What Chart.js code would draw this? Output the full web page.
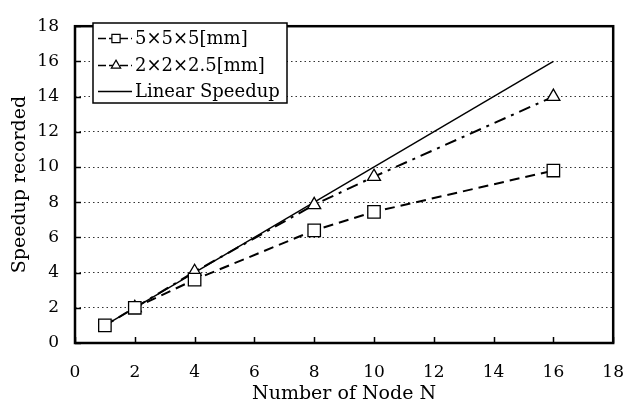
<!DOCTYPE html>
<html><head><meta charset="utf-8">
<script src="https://cdn.jsdelivr.net/npm/chart.js@4/dist/chart.umd.min.js"></script>
<style>html,body{margin:0;padding:0;background:#fff}#wrap{width:643px;height:405px}</style>
</head><body><div id="wrap"><canvas id="c" width="643" height="405"></canvas></div>
<script>
const nodes5 = [1, 2, 4, 8, 10, 16];
const speed5 = [1.0, 2.0, 3.6, 6.4, 7.45, 9.8];
const nodes2 = [2, 4, 8, 10, 16];
const speed2 = [2.0, 4.05, 7.85, 9.45, 14.0];
const nodesLin = [1, 16];
const speedLin = [1, 16];
const seriesLabels = ['5×5×5[mm]', '2×2×2.5[mm]', 'Linear Speedup'];
const xTicks = [0, 2, 4, 6, 8, 10, 12, 14, 16, 18];
const yTicks = [0, 2, 4, 6, 8, 10, 12, 14, 16, 18];

const SERIF = '"DejaVu Serif", "Liberation Serif", serif';
const toXY = (xs, ys) => xs.map((x, i) => ({x, y: ys[i]}));

const framePlugin = {
  id: 'frame',
  afterDraw(chart) {
    const {ctx, chartArea: a, scales} = chart;
    ctx.save();
    ctx.strokeStyle = '#000'; ctx.lineWidth = 1.5;
    xTicks.forEach(v => {
      const px = Math.round(scales.x.getPixelForValue(v)) + 0.5;
      ctx.beginPath(); ctx.moveTo(px, a.bottom); ctx.lineTo(px, a.bottom - 6); ctx.stroke();
    });
    yTicks.forEach(v => {
      const py = Math.round(scales.y.getPixelForValue(v)) + 0.5;
      ctx.beginPath(); ctx.moveTo(a.left, py); ctx.lineTo(a.left + 6, py); ctx.stroke();
    });
    ctx.lineWidth = 2.5;
    ctx.strokeRect(a.left, a.top, a.right - a.left, a.bottom - a.top);
    // legend
    const lx = 93, ly = 23, lw = 194, lh = 80;
    ctx.fillStyle = '#fff';
    ctx.fillRect(lx, ly, lw, lh);
    ctx.lineWidth = 1.5;
    ctx.strokeRect(lx, ly, lw, lh);
    const rows = [38, 65, 91];
    const mr = [5.8, 5.4, 0];
    chart.data.datasets.forEach((ds, i) => {
      const y = rows[i];
      ctx.strokeStyle = '#000';
      ctx.lineWidth = 1.4;
      ctx.setLineDash(i === 2 ? [] : [8, 3]);
      ctx.beginPath(); ctx.moveTo(98, y + 0.5); ctx.lineTo(132, y + 0.5); ctx.stroke();
      ctx.setLineDash([]);
      if (mr[i] > 0) {
        ctx.fillStyle = '#fff';
        ctx.strokeStyle = '#000';
        ctx.lineWidth = 1.2;
        Chart.helpers.drawPoint(ctx, {pointStyle: ds.pointStyle, radius: mr[i], borderWidth: 1.2}, 116, y + 0.5);
      }
      ctx.fillStyle = '#000';
      ctx.font = '18px ' + SERIF;
      ctx.textBaseline = 'middle';
      ctx.textAlign = 'left';
      ctx.fillText(ds.label, 135, y + 1);
    });
    ctx.restore();
  }
};

new Chart(document.getElementById('c'), {
  type: 'scatter',
  data: {
    datasets: [
      {label: seriesLabels[0], data: toXY(nodes5, speed5), showLine: true,
       borderColor: '#000', borderWidth: 2, borderDash: [10, 6],
       pointStyle: 'rect', pointRadius: 8.8, pointBackgroundColor: '#fff', pointBorderColor: '#000', pointBorderWidth: 1.3},
      {label: seriesLabels[1], data: toXY(nodes2, speed2), showLine: true,
       borderColor: '#000', borderWidth: 2, borderDash: [12, 6, 3, 6],
       pointStyle: 'triangle', pointRadius: 7.5, pointBackgroundColor: '#fff', pointBorderColor: '#000', pointBorderWidth: 1.3},
      {label: seriesLabels[2], data: toXY(nodesLin, speedLin), showLine: true,
       borderColor: '#000', borderWidth: 1.4, pointRadius: 0, pointStyle: false}
    ]
  },
  options: {
    responsive: false, animation: false,
    layout: {padding: {left: 0, right: 23, top: 14, bottom: 0}},
    plugins: {legend: {display: false}, tooltip: {enabled: false}},
    scales: {
      x: {
        type: 'linear', min: 0, max: 18,
        afterBuildTicks: s => { s.ticks = xTicks.map(v => ({value: v})); },
        afterFit: s => { s.height = 62; },
        grid: {display: false, drawTicks: false},
        border: {display: false},
        ticks: {color: '#000', font: {family: SERIF, size: 17}, padding: 19},
        title: {display: true, text: 'Number of Node N', color: '#000', font: {family: SERIF, size: 19}, padding: {top: 0, bottom: 0}}
      },
      y: {
        type: 'linear', min: 0, max: 18,
        afterBuildTicks: s => { s.ticks = yTicks.map(v => ({value: v})); },
        afterFit: s => { s.width = 75; },
        grid: {color: '#333', lineWidth: 1, drawTicks: false},
        border: {display: false, dash: [1.5, 3]},
        ticks: {color: '#000', font: {family: SERIF, size: 17}, padding: 16},
        title: {display: true, text: 'Speedup recorded', color: '#000', font: {family: SERIF, size: 19}, padding: {top: 8.5, bottom: 0}}
      }
    }
  },
  plugins: [framePlugin]
});
</script>
</body></html>
